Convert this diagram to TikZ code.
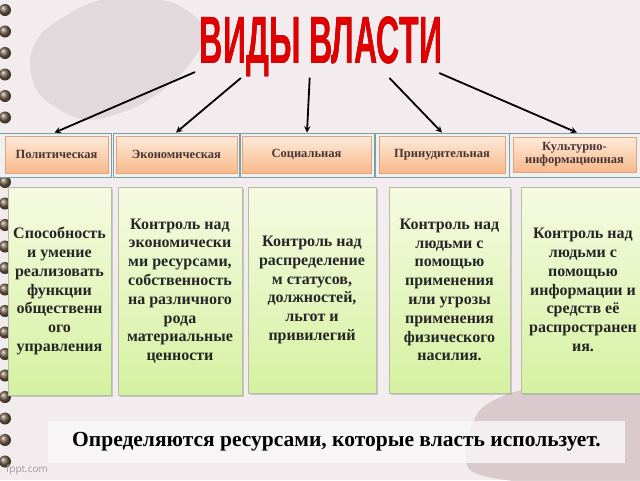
\documentclass[tikz,border=0pt]{standalone}
\usepackage{fontspec}
\usepackage{pdfrender}
\setmainfont{Liberation Serif}
\newfontfamily\titlefont{Liberation Sans}
\newfontfamily\sitefont{Open Sans}
\usetikzlibrary{shadows}
\definecolor{bgpink}{HTML}{F3ECEF}
\definecolor{splash}{HTML}{E2D9DC}
\definecolor{splashdark}{HTML}{CDBCBF}
\definecolor{ringbrown}{HTML}{7A6550}
\definecolor{frameedge}{HTML}{7F9EA3}
\definecolor{framefill}{HTML}{EEF1F1}
\definecolor{orangetop}{HTML}{FDEBDB}
\definecolor{orangebot}{HTML}{F8B98A}
\definecolor{orangeedge}{HTML}{E3A27A}
\definecolor{headtext}{HTML}{4A3535}
\definecolor{greentop}{HTML}{F6FAE2}
\definecolor{greenbot}{HTML}{D5F1A0}
\definecolor{greenedge}{HTML}{B5BFA5}
\definecolor{cardtext}{HTML}{262626}
\definecolor{titlered}{HTML}{E00000}
\definecolor{titleedge}{HTML}{7A0000}
\definecolor{footfill}{HTML}{FAF8F9}
\definecolor{sitegrey}{HTML}{9A9A9A}
\begin{document}
\begin{tikzpicture}[x=1pt,y=-1pt,>=stealth,line join=round,line cap=round,
  frame/.style={draw=frameedge,fill=framefill,line width=.8pt,minimum height=44pt,inner sep=0pt},
  head/.style={draw=orangeedge,top color=orangetop,bottom color=orangebot,line width=.5pt,
    minimum height=37pt,inner sep=1pt,align=center,text=headtext,
    font=\fontsize{12.5}{13}\selectfont\bfseries},
  card/.style={draw=greenedge,top color=greentop,bottom color=greenbot,line width=.5pt,
    inner sep=0pt,align=center,text=cardtext,font=\fontsize{16}{18.8}\selectfont\bfseries,
    drop shadow={shadow xshift=1.5pt,shadow yshift=-1.5pt,opacity=.35}},
  band/.style={fill=footfill,fill opacity=.8,text opacity=1,minimum width=577pt,minimum height=42pt,
    font=\fontsize{21.5}{23}\selectfont\bfseries,text=black},
  titletext/.style={inner xsep=0pt,inner ysep=0pt,text height=48pt,text depth=0pt}]
\def\titletxt{ВИДЫ ВЛАСТИ}
% фон
\useasboundingbox (0,0) rectangle (640,480);
\clip (0,0) rectangle (640,480);
\fill[bgpink] (0,0) rectangle (640,480);
\fill[splash] plot[smooth cycle] coordinates {(45,30) (100,0) (170,2) (205,30) (185,70) (140,105) (85,120) (40,95) (30,60)};
\fill[splashdark,opacity=.7] plot[smooth cycle] coordinates {(480,410) (540,385) (610,380) (645,400) (645,485) (560,485) (470,470)};
\foreach \i in {0,...,21}
  \shade[ball color=ringbrown] (5,10+21.5*\i) circle (6);
% заголовки
\node[frame,minimum width=113pt] (f1) at (54.5,155) {};
\node[frame,minimum width=126pt] (f2) at (176,155) {};
\node[frame,minimum width=134pt] (f3) at (307,155) {};
\node[frame,minimum width=134pt] (f4) at (442,155) {};
\node[frame,minimum width=135pt] (f5) at (577,155) {};
\node[head,minimum width=103pt] (h1) at (56.5,154.5) {Политическая};
\node[head,minimum width=121pt] (h2) at (176.5,154.5) {Экономическая};
\node[head,minimum width=129pt] (h3) at (306.5,154.5) {Социальная};
\node[head,minimum width=126pt] (h4) at (442,154.5) {Принудительная};
\node[head,minimum width=123pt,minimum height=35pt] (h5) at (574.5,154.5) {Культурно-\\информационная};
% карточки
\node[card,minimum width=103pt,minimum height=208pt] (g1) at (59.5,291)
  {Способность\\и умение\\реализовать\\функции\\общественн\\ого\\управления};
\node[card,minimum width=124pt,minimum height=208pt] (g2) at (180,291)
  {Контроль над\\экономически\\ми ресурсами,\\собственность\\на различного\\рода\\материальные\\ценности};
\node[card,minimum width=128pt,minimum height=206pt] (g3) at (312,290)
  {Контроль над\\распределение\\м статусов,\\должностей,\\льгот и\\привилегий};
\node[card,minimum width=121pt,minimum height=206pt] (g4) at (449.5,290)
  {Контроль над\\людьми с\\помощью\\применения\\или угрозы\\применения\\физического\\насилия.};
\node[card,minimum width=124pt,minimum height=206pt] (g5) at (583,290)
  {Контроль над\\людьми с\\помощью\\информации и\\средств её\\распространен\\ия.};
% заглавие
\node[titletext] (title) at (321,39)
  {\scalebox{0.48}[1]{\titlefont\fontsize{67}{67}\selectfont\bfseries
   \rlap{\color{titleedge}\textpdfrender{TextRenderingMode=FillStroke,LineWidth=3pt}{\titletxt}}%
   \color{titlered}\titletxt}};
\draw[->,line width=1.8pt] ([xshift=-5pt,yshift=-9pt]title.south west) -- (f1.north);
\draw[->,line width=1.8pt] ([xshift=41pt,yshift=-15pt]title.south west) -- (f2.north);
\draw[->,line width=1.8pt] ([xshift=110pt,yshift=-15pt]title.south west) -- (f3.north);
\draw[->,line width=1.8pt] ([xshift=190pt,yshift=-15pt]title.south west) -- (f4.north);
\draw[->,line width=1.8pt] ([xshift=240pt,yshift=-10pt]title.south west) -- (f5.north);
% подпись
\node[band] (note) at (336.5,442) {Определяются ресурсами, которые власть использует.};
\node[text=sitegrey,font=\sitefont\fontsize{10}{10}\selectfont] (site) at (27,470) {fppt.com};
\end{tikzpicture}
\end{document}
